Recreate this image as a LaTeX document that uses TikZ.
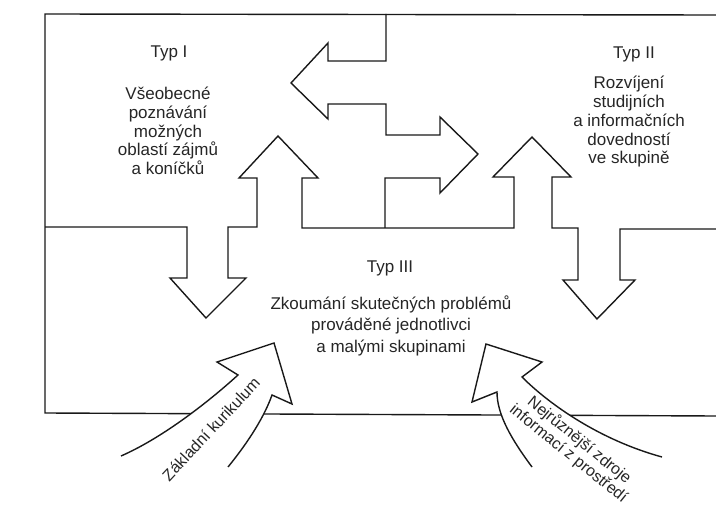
\documentclass[tikz,border=0pt]{standalone}
\usepackage{fontspec}
\setmainfont{Liberation Sans}
\begin{document}
\begin{tikzpicture}[x=1pt,y=-1pt,
  frame/.style={line width=1.4pt, line join=miter, draw=black!90},
  lbl/.style={font=\fontsize{17}{18.75}\selectfont, align=center, inner sep=0pt, text=black!85},
  lblIII/.style={font=\fontsize{17}{21.5}\selectfont, align=center, inner sep=0pt, text=black!85},
  curv/.style={font=\fontsize{16}{17}\selectfont, align=center, inner sep=0pt, text=black!85}]
\useasboundingbox[fill=white] (0,0) rectangle (716,516);

% outer frame (open on the right)
\draw[frame] (716,15) -- (45,14) -- (45,413) -- (716,416);

% middle boundary with the two vertical double arrows
\draw[frame] (45,227) -- (187,227) -- (187,278) -- (170,278) -- (206,318) -- (246,278)
  -- (228,278) -- (228,227) -- (257,227) -- (257,178) -- (239,178) -- (278,136)
  -- (318,178) -- (302,178) -- (302,228) -- (514,228) -- (514,177) -- (493,177)
  -- (532,137) -- (571,177) -- (552,177) -- (552,228) -- (578,228) -- (578,280)
  -- (563,280) -- (597,319) -- (635,280) -- (620,280) -- (620,229) -- (716,229);

% horizontal double arrow between Typ I and Typ II
\draw[frame] (386,14) -- (386,61) -- (328,61) -- (328,43) -- (291,83) -- (328,119)
  -- (328,104) -- (386,104) -- (386,135) -- (440,135) -- (440,117) -- (478,154)
  -- (440,193) -- (440,178) -- (385,178) -- (385,228);

% curved arrow: Základní kurikulum
\draw[frame, fill=white] (121,456) .. controls (160,439) and (205,405) .. (238,375)
  -- (217,362) -- (274,343) -- (292,404) -- (272,395)
  .. controls (265,415) and (250,440) .. (228,467);

% curved arrow: Nejrůznější zdroje informací z prostředí
\draw[frame, fill=white] (532,467) .. controls (512,440) and (497,415) .. (497,392)
  -- (472,402) -- (486,344) -- (542,362) -- (522,377)
  .. controls (550,405) and (600,440) .. (662,457);

% texts
\node[lbl] (t1) at (169,53) {Typ I};
\node[lbl] (b1) at (168,131) {Všeobecné\\poznávání\\možných\\oblastí zájmů\\a koníčků};
\node[lbl] (t2) at (634,54) {Typ II};
\node[lbl] (b2) at (629,122) {Rozvíjení\\studijních\\a informačních\\dovedností\\ve skupině};
\node[lblIII] (t3) at (390,268) {Typ III};
\node[lblIII] (b3) at (391,325.5) {Zkoumání skutečných problémů\\prováděné jednotlivci\\a malými skupinami};
\node[curv, rotate=47] (c1) at (211,429) {Základní kurikulum};
\node[curv, rotate=-39] (c2) at (574,447) {Nejrůznější zdroje\\informací z prostředí};
\end{tikzpicture}
\end{document}
